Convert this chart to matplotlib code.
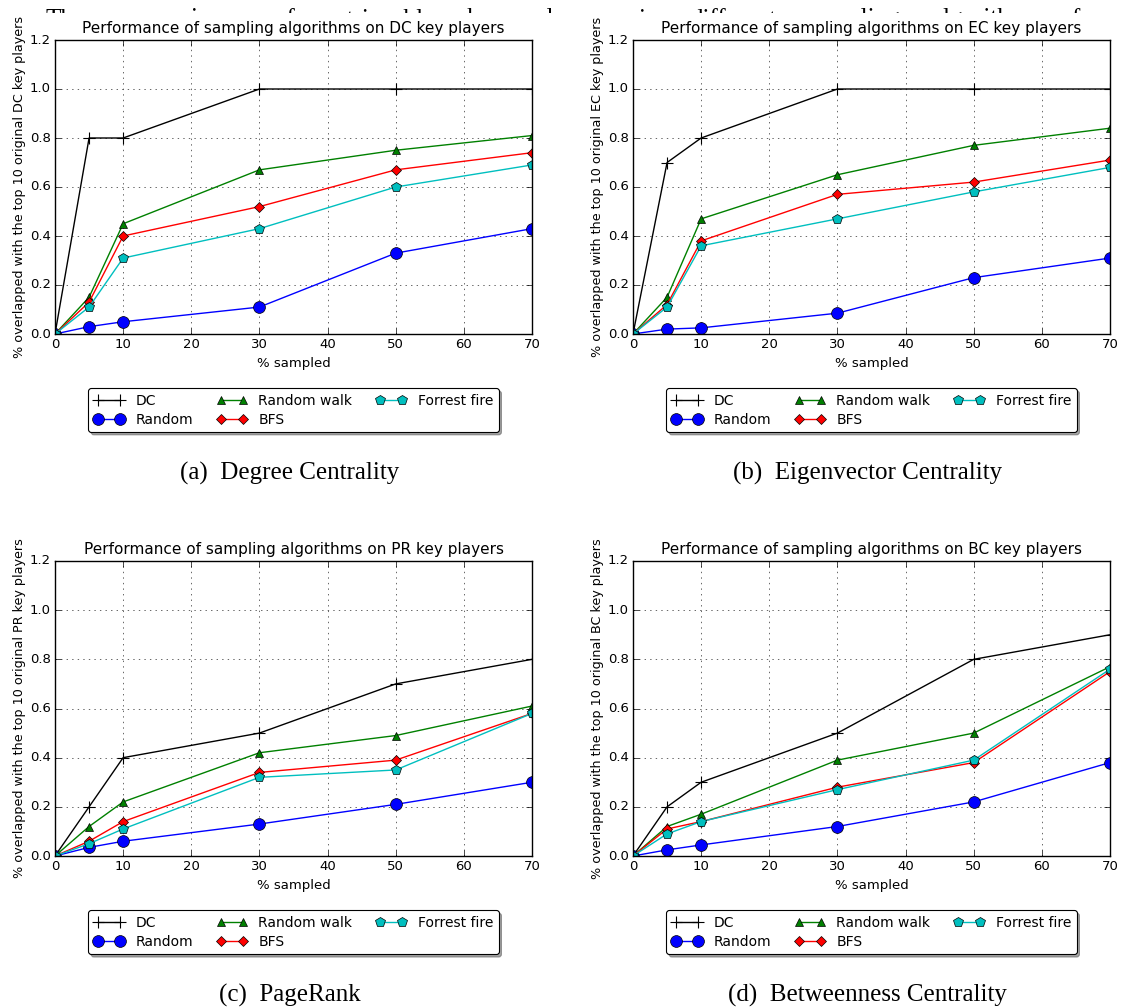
import matplotlib
matplotlib.use("Agg")
import matplotlib.pyplot as plt
from matplotlib.patches import Rectangle

plt.style.use("classic")
plt.rcParams["font.family"] = ["DejaVu Sans"]

# sampling percentages on the x axis
sampled = [0, 5, 10, 30, 50, 70]

# overlap with the top 10 original key players, per centrality measure
dc_dc = [0, 0.80, 0.80, 1.00, 1.00, 1.00]
dc_random = [0, 0.03, 0.05, 0.11, 0.33, 0.43]
dc_rwalk = [0, 0.15, 0.45, 0.67, 0.75, 0.81]
dc_bfs = [0, 0.13, 0.40, 0.52, 0.67, 0.74]
dc_ffire = [0, 0.11, 0.31, 0.43, 0.60, 0.69]

ec_dc = [0, 0.70, 0.80, 1.00, 1.00, 1.00]
ec_random = [0, 0.02, 0.025, 0.085, 0.23, 0.31]
ec_rwalk = [0, 0.15, 0.47, 0.65, 0.77, 0.84]
ec_bfs = [0, 0.12, 0.38, 0.57, 0.62, 0.71]
ec_ffire = [0, 0.11, 0.36, 0.47, 0.58, 0.68]

pr_dc = [0, 0.20, 0.40, 0.50, 0.70, 0.80]
pr_random = [0, 0.035, 0.06, 0.13, 0.21, 0.30]
pr_rwalk = [0, 0.12, 0.22, 0.42, 0.49, 0.61]
pr_bfs = [0, 0.06, 0.14, 0.34, 0.39, 0.58]
pr_ffire = [0, 0.05, 0.11, 0.32, 0.35, 0.58]

bc_dc = [0, 0.20, 0.30, 0.50, 0.80, 0.90]
bc_random = [0, 0.025, 0.045, 0.12, 0.22, 0.38]
bc_rwalk = [0, 0.12, 0.17, 0.39, 0.50, 0.77]
bc_bfs = [0, 0.11, 0.14, 0.28, 0.38, 0.75]
bc_ffire = [0, 0.09, 0.14, 0.27, 0.39, 0.76]

measures = ["DC", "EC", "PR", "BC"]
captions = ["(a)  Degree Centrality", "(b)  Eigenvector Centrality",
            "(c)  PageRank", "(d)  Betweenness Centrality"]
series_names = ["DC", "Random", "Random walk", "BFS", "Forrest fire"]
panel_data = [
    [dc_dc, dc_random, dc_rwalk, dc_bfs, dc_ffire],
    [ec_dc, ec_random, ec_rwalk, ec_bfs, ec_ffire],
    [pr_dc, pr_random, pr_rwalk, pr_bfs, pr_ffire],
    [bc_dc, bc_random, bc_rwalk, bc_bfs, bc_ffire],
]
x_ticks = [0, 10, 20, 30, 40, 50, 60, 70]
y_ticks = [0.0, 0.2, 0.4, 0.6, 0.8, 1.0, 1.2]
header_line = ("The comparisons of retrievable key players in "
               "different sampling algorithms for")

styles = [
    dict(color="k", marker="+", markersize=8, markeredgewidth=0.8),
    dict(color="b", marker="o", markersize=8.5, markeredgewidth=0.5),
    dict(color="g", marker="^", markersize=5.5, markeredgewidth=0.5),
    dict(color="r", marker="D", markersize=5, markeredgewidth=0.5),
    dict(color="c", marker="p", markersize=7, markeredgewidth=0.5),
]

W, H = 1123, 1007
fig = plt.figure(figsize=(W / 100, H / 100), dpi=100, facecolor="white")

# pixel boxes (left, top, right, bottom) of the four panels
boxes = [(55, 40, 532, 334), (633, 40, 1110, 334),
         (55, 561, 532, 856), (633, 561, 1110, 856)]

for (l, t, r, b), m, cap, data in zip(boxes, measures, captions, panel_data):
    ax = fig.add_axes([l / W, 1 - b / H, (r - l) / W, (b - t) / H])
    for name, vals, st in zip(series_names, data, styles):
        ax.plot(sampled, vals, label=name, linewidth=1.0,
                markeredgecolor="k", **st)
    ax.set_xlim(0, 70)
    ax.set_ylim(0, 1.2)
    ax.set_xticks(x_ticks)
    ax.set_yticks(y_ticks)
    ax.tick_params(labelsize=9.5, pad=3)
    ax.grid(True, linestyle=":", color="0.3", linewidth=0.6)
    ax.set_axisbelow(True)
    ax.set_title(f"Performance of sampling algorithms on {m} key players",
                 fontsize=11, pad=5)
    ax.set_xlabel("% sampled", fontsize=9.5, labelpad=4)
    ax.set_ylabel(f"% overlapped with the top 10 original {m} key players",
                  fontsize=9.2, labelpad=3)
    leg = ax.legend(loc="upper center", bbox_to_anchor=(0.5, -0.184), ncol=3,
                    fontsize=10, fancybox=True, shadow=True, numpoints=2,
                    borderaxespad=0, handlelength=2.2, columnspacing=1.7,
                    labelspacing=0.35, borderpad=0.4, handletextpad=0.8)
    leg.get_frame().set_linewidth(0.8)
    fig.text(((l + r) / 2 - 4) / W, 1 - (b + 146) / H, cap, ha="center",
             va="baseline", fontsize=18, family="Liberation Serif")

# running text line of the page above the panels; a white band hides
# all but the tops of its letters, the panels are drawn on top of the band
renderer = fig.canvas.get_renderer()
words = header_line.split()
word_texts = [fig.text(0, 1 - 25.5 / H, w, ha="left", va="baseline",
                       fontsize=18, family="Liberation Serif", zorder=-2)
              for w in words]
widths = [t.get_window_extent(renderer).width for t in word_texts]
x_start, x_end = 45.0, 1100.0
gap = (x_end - x_start - sum(widths)) / (len(words) - 1)
x = x_start
for t, w in zip(word_texts, widths):
    t.set_x(x / W)
    x += w + gap
fig.add_artist(Rectangle((0, 1 - 60 / H), 1, 47 / H, transform=fig.transFigure,
                         facecolor="white", edgecolor="none", zorder=-1))

fig.savefig("out.png", dpi=100, facecolor="white")
